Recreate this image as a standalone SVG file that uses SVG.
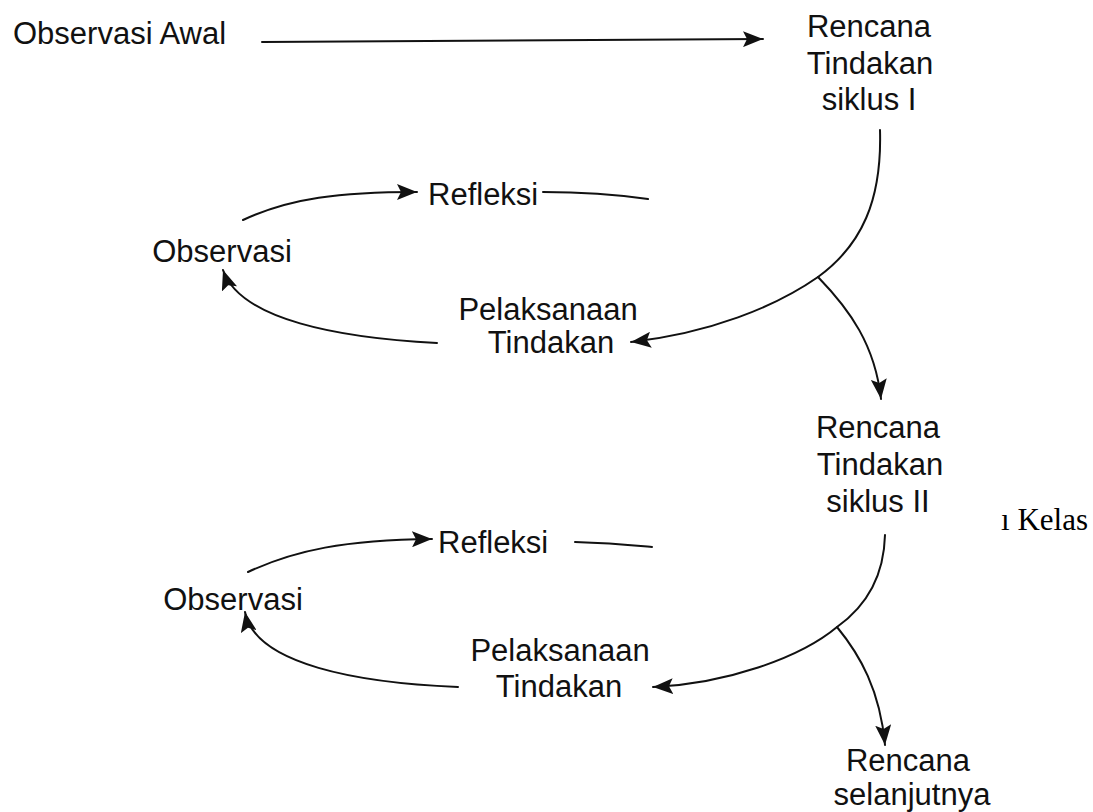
<svg xmlns="http://www.w3.org/2000/svg" width="1093" height="812" viewBox="0 0 1093 812">
<style>
.t{font-family:"Liberation Sans",Arial,sans-serif;font-size:31px;fill:#111}
.m{text-anchor:middle}
.c{fill:none;stroke:#111;stroke-width:2;stroke-linecap:round}
.s{font-family:"Liberation Serif","Times New Roman",serif;font-size:31px;fill:#000}
</style>
<defs>
<marker id="ah" markerUnits="userSpaceOnUse" markerWidth="22" markerHeight="16" refX="20" refY="8" orient="auto">
<path d="M0,0 L20,8 L0,16 L4,8 z" fill="#111"/>
</marker>
</defs>
<rect width="1093" height="812" fill="#fff"/>
<g id="connectors">
<path class="c" d="M262,42 L763,39" marker-end="url(#ah)"/>
<path class="c" d="M880,130 C882,200 862,245 818,277 C775,307 710,333 631,342" marker-end="url(#ah)"/>
<path class="c" d="M818,277 C850,310 875,345 881,399" marker-end="url(#ah)"/>
<path class="c" d="M243,220 C290,198 340,192 417,192" marker-end="url(#ah)"/>
<path class="c" d="M543,192 C580,192 620,195 648,199"/>
<path class="c" d="M437,343 C340,338 240,320 223,270" marker-end="url(#ah)"/>
<path class="c" d="M885,535 C884,575 868,605 837,627 C800,658 725,684 653,687" marker-end="url(#ah)"/>
<path class="c" d="M837,627 C860,655 880,690 885,745" marker-end="url(#ah)"/>
<path class="c" d="M248,572 C295,550 345,540 432,539" marker-end="url(#ah)"/>
<path class="c" d="M575,542 C610,543 630,545 652,547"/>
<path class="c" d="M458,687 C360,683 255,665 245,612" marker-end="url(#ah)"/>
</g>
<g id="observasi-awal"><text class="t" x="13" y="44">Observasi Awal</text></g>
<g id="rencana-1"><text class="t m" x="869" y="37">Rencana</text><text class="t m" x="870" y="74">Tindakan</text><text class="t m" x="869" y="110">siklus I</text></g>
<g id="refleksi-1"><text class="t" x="428" y="205">Refleksi</text></g>
<g id="observasi-1"><text class="t m" x="222" y="262">Observasi</text></g>
<g id="pelaksanaan-1"><text class="t m" x="548" y="320">Pelaksanaan</text><text class="t m" x="551" y="353">Tindakan</text></g>
<g id="rencana-2"><text class="t m" x="878" y="438">Rencana</text><text class="t m" x="880" y="475">Tindakan</text><text class="t m" x="878" y="512">siklus II</text></g>
<g id="kelas"><text class="s" x="1088" y="530" text-anchor="end">ı Kelas</text></g>
<g id="refleksi-2"><text class="t" x="438" y="553">Refleksi</text></g>
<g id="observasi-2"><text class="t m" x="233" y="610">Observasi</text></g>
<g id="pelaksanaan-2"><text class="t m" x="560" y="661">Pelaksanaan</text><text class="t m" x="559" y="697">Tindakan</text></g>
<g id="rencana-3"><text class="t m" x="908" y="771">Rencana</text><text class="t m" x="912" y="805">selanjutnya</text></g>
</svg>
